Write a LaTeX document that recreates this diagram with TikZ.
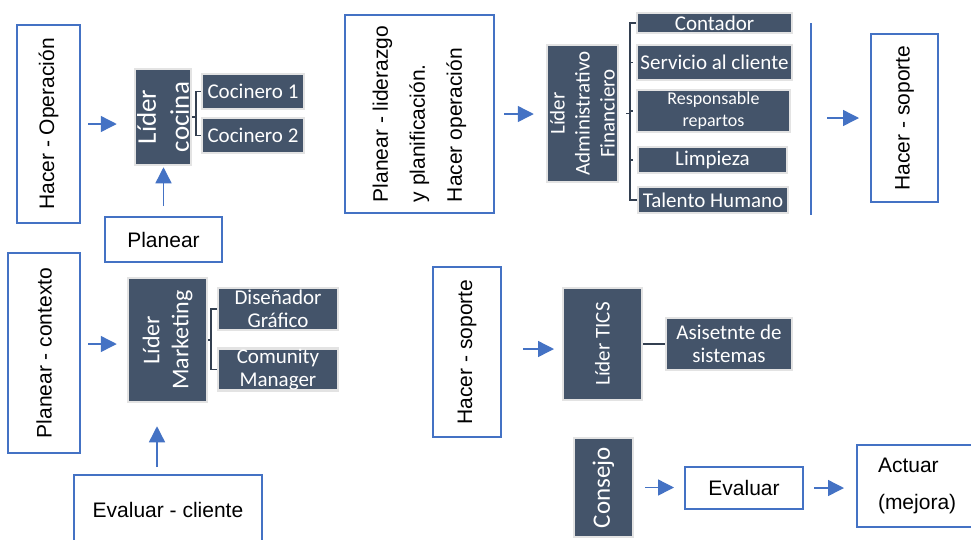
\documentclass[tikz,border=0pt]{standalone}
\usepackage{fontspec}
\setmainfont{Liberation Sans}
\newfontfamily\carl{Carlito}
\usetikzlibrary{arrows.meta,calc}
\definecolor{bl}{HTML}{4472C4}
\definecolor{dk}{HTML}{44546A}
\definecolor{lg}{HTML}{E3E3E3}
\definecolor{br}{HTML}{333F50}
\begin{document}
\begin{tikzpicture}[x=1pt,y=-1pt,
  bbox/.style={draw=bl,line width=2pt,fill=white,inner sep=0pt,align=center,font=\fontsize{21}{25}\selectfont},
  dbox/.style={draw=lg,line width=2.5pt,fill=dk,text=white,inner sep=0pt,align=center,font=\carl\fontsize{21}{23.5}\selectfont},
  arr/.style={draw=bl,line width=1.4pt,-{Triangle[length=16pt,width=16pt]}},
  brk/.style={draw=br,line width=1.5pt},
  sz/.style n args={2}{minimum width=#1pt,minimum height=#2pt}]
\useasboundingbox (0,0) rectangle (971,539);
\clip (0,0) rectangle (971,539);
\fill[white] (0,0) rectangle (971,539);

% left top group
\node[bbox,rotate=90,sz={198}{63}] (hacerop) at (48.5,124) {Hacer - Operación};
\node[dbox,rotate=90,sz={96}{56},font=\carl\fontsize{27}{33}\selectfont] (cocina) at (163,117) {Líder\\cocina};
\node[dbox,sz={102}{35}] (coc1) at (253,91.5) {Cocinero 1};
\node[dbox,sz={102}{35}] (coc2) at (253,135.5) {Cocinero 2};
\node[bbox,sz={117}{45}] (planear) at (163.5,239.5) {Planear};

\draw[arr,shorten <=7pt,shorten >=17pt] (hacerop.south) -- (hacerop.south -| cocina.north);
\draw[arr,shorten <=10pt,shorten >=1pt] (planear.north) -- (planear.north |- cocina.west);
\coordinate (bc) at ($(coc1.west)+(-5,0)$);
\draw[brk] (coc1.west) -- (bc) |- (coc2.west);
\draw[brk] (cocina.south) -- (cocina.south -| bc);

% left bottom group
\node[bbox,rotate=90,sz={200}{72}] (contexto) at (44,353) {Planear - contexto};
\node[dbox,rotate=90,sz={124}{79},font=\carl\fontsize{24}{29}\selectfont] (mkt) at (167.5,340) {Líder\\Marketing};
\node[dbox,sz={120}{42}] (dis) at (278,309) {Diseñador\\Gráfico};
\node[dbox,sz={120}{39}] (com) at (278,369.5) {Comunity\\Manager};
\node[bbox,sz={188}{70}] (evalcli) at (168,510) {Evaluar - cliente};

\draw[arr] ($(contexto.south |- mkt.north)+(7,4)$) -- ($(mkt.north)+(-10,4)$);
\draw[arr] ($(evalcli.north)+(-11,-7)$) -- ($(mkt.west)+(-10.5,23)$);
\coordinate (bm) at ($(dis.west)+(-6,0)$);
\draw[brk] (dis.west) -- (bm) |- (com.west);
\draw[brk] (mkt.south) -- (mkt.south -| bm);

% top middle group
\node[bbox,rotate=90,sz={198}{149},align=left,font=\fontsize{21}{37}\selectfont] (planlid) at (419.5,114) {Planear - liderazgo\\y planificación.\\Hacer operación};
\node[dbox,rotate=90,sz={137}{71},font=\carl\fontsize{21}{25}\selectfont] (admin) at (582.5,113.5) {Líder\\Administrativo\\Financiero};
\node[dbox,sz={155}{20}] (cont) at (714.5,23) {Contador};
\node[dbox,sz={155}{35}] (serv) at (714.5,62.5) {Servicio al cliente};
\node[dbox,sz={153}{42},font=\carl\fontsize{18}{22}\selectfont] (resp) at (713.5,111) {Responsable\\repartos};
\node[dbox,sz={149}{26}] (limp) at (712.5,160) {Limpieza};
\node[dbox,sz={150}{26}] (tal) at (713,200) {Talento Humano};

\draw[arr,shorten <=9pt,shorten >=12pt] (planlid.south) -- (planlid.south -| admin.north);
\coordinate (ba) at ($(cont.west)+(-6,0)$);
\draw[brk] (cont.west) -- (ba) |- (tal.west);
\draw[brk] (ba |- serv.west) -- ++(3,0);
\draw[brk] (ba |- resp.west) -- ++(3,0);
\draw[brk] (ba |- limp.west) -- ++(3,0);
\draw[brk] (ba |- admin.south) -- ++(-4,0);

% top right
\coordinate (vl1) at (811,23);
\coordinate (vl2) at (811,215);
\draw[bl,line width=1.4pt] (vl1) -- (vl2);
\node[bbox,rotate=90,sz={168}{67}] (sop1) at (904.5,118) {Hacer - soporte};
\draw[arr] ($(sop1.north)+(-43,0)$) -- ($(sop1.north)+(-11,0)$);

% middle TICS
\node[bbox,rotate=90,sz={170}{68}] (sop2) at (467,352) {Hacer - soporte};
\node[dbox,rotate=90,sz={112}{79}] (tics) at (602.5,344) {Líder TICS};
\node[dbox,sz={126}{52}] (asis) at (729,344) {Asisetnte de\\sistemas};
\draw[arr] ($(sop2.south)+(21,-3)$) -- ($(sop2.south)+(52,-3)$);
\draw[brk] (tics.south) -- (asis.west);

% bottom right
\node[dbox,rotate=90,sz={99}{59},font=\carl\fontsize{25}{30}\selectfont] (consejo) at (603.5,487.5) {Consejo};
\node[bbox,sz={118}{42}] (evaluar) at (744,488) {Evaluar};
\node[bbox,sz={133}{82},text width=91pt,align=left,font=\fontsize{21}{37}\selectfont] (actuar) at (923.5,486) {Actuar\\(mejora)};
\draw[arr,shorten <=11pt,shorten >=10pt] (consejo.south) -- (consejo.south -| evaluar.west);
\draw[arr,shorten <=10pt,shorten >=12pt] (evaluar.east) -- (evaluar.east -| actuar.west);
\end{tikzpicture}
\end{document}
